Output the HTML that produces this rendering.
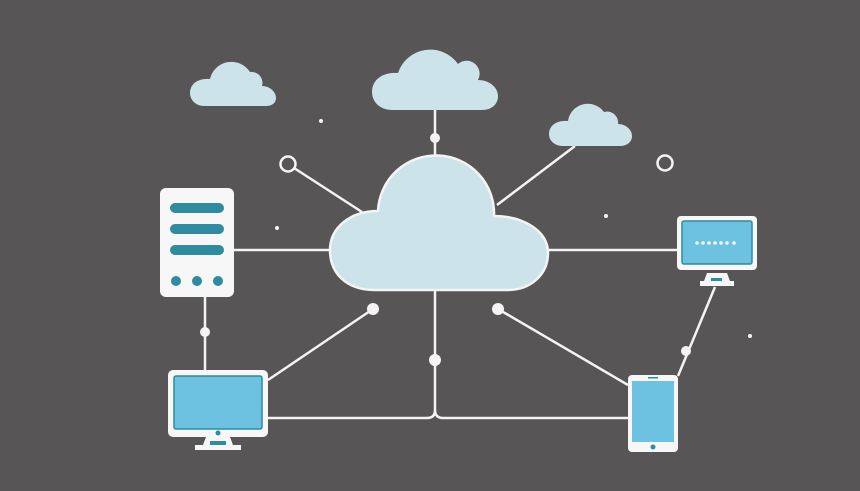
<!DOCTYPE html>
<html><head><style>html,body{margin:0;padding:0;background:#575556;}svg{display:block}</style></head>
<body>
<svg width="860" height="491" viewBox="0 0 860 491" xmlns="http://www.w3.org/2000/svg">
<rect width="860" height="491" fill="#575556"/>
<g stroke="#f4f4f4" stroke-width="2.5" fill="none">
<line x1="435" y1="110" x2="435" y2="160"/>
<line x1="294" y1="168" x2="362" y2="212"/>
<line x1="575" y1="146" x2="497" y2="205"/>
<line x1="234" y1="250" x2="332" y2="250"/>
<line x1="546" y1="250" x2="677" y2="250"/>
<line x1="205" y1="297" x2="205" y2="370"/>
<line x1="268" y1="380" x2="373" y2="309"/>
<line x1="628" y1="385" x2="498" y2="309"/>
<line x1="715" y1="287" x2="678" y2="376"/>
<path d="M268,418 H427 Q435,418 435,410 V290 M435,410 Q435,418 443,418 H628"/>
<circle cx="288" cy="164" r="7.5"/>
<circle cx="665" cy="163" r="7.5"/>
</g>
<g fill="#f4f4f4">
<circle cx="435" cy="138" r="5"/>
<circle cx="205" cy="332" r="5"/>
<circle cx="373" cy="309" r="6"/>
<circle cx="498" cy="309" r="6"/>
<circle cx="435" cy="360" r="6"/>
<circle cx="686" cy="351" r="5"/>
<circle cx="321" cy="121" r="2"/>
<circle cx="277" cy="228" r="2"/>
<circle cx="606" cy="216" r="2"/>
<circle cx="750" cy="336" r="2"/>
</g>
<!-- clouds -->
<path d="M375,290 C345,290 330,272 330,250 C330,228 350,211 378,211 A58,58 0 0 1 494,216 C522,216 548,230 548,253 C548,275 530,290 508,290 Z" fill="#cde3ea" stroke="#f4f4f4" stroke-width="2.5"/>
<path d="M392,110 C380,110 372,102 372,92 C372,80 382,72 398,73 A34,34 0 0 1 458,64 A13,13 0 0 1 478,80 C490,80 498,88 498,96 C498,104 492,110 482,110 Z" fill="#cde3ea"/>
<path d="M204,106 C196,106 190,100 190,93 C190,84 198,78 210,79 A22,22 0 0 1 250,72 A11,11 0 0 1 262,86 C270,86 276,92 276,98 C276,103 272,106 266,106 Z" fill="#cde3ea"/>
<path d="M563,146 C555,146 549,141 549,134 C549,126 556,120 568,121 A20,20 0 0 1 604,112 A11,11 0 0 1 618,124 C626,124 632,130 632,136 C632,142 627,146 620,146 Z" fill="#cde3ea"/>
<!-- server -->
<rect x="160" y="188" width="74" height="109" rx="6" fill="#f7f7f7"/>
<g fill="#2f8b9f">
<rect x="170" y="203" width="54" height="10" rx="5"/>
<rect x="170" y="224" width="54" height="10" rx="5"/>
<rect x="170" y="245" width="54" height="10" rx="5"/>
<circle cx="176" cy="281" r="5"/><circle cx="197" cy="281" r="5"/><circle cx="218" cy="281" r="5"/>
</g>
<!-- left monitor -->
<rect x="168" y="370" width="100" height="67" rx="5" fill="#f7f7f7"/>
<rect x="174" y="376" width="88" height="53" rx="2" fill="#6cc2e0" stroke="#2f8b9f" stroke-width="1.5"/>
<circle cx="218" cy="433" r="2.5" fill="#2f8b9f"/>
<path d="M206,437 h24 l3,8 h8 v5 h-46 v-5 h8 z" fill="#f7f7f7"/>
<rect x="210" y="441" width="16" height="4" fill="#2f8b9f"/>
<!-- right monitor -->
<rect x="677" y="216" width="80" height="54" rx="4" fill="#f7f7f7"/>
<rect x="682" y="221" width="70" height="43" rx="2" fill="#6cc2e0" stroke="#2f8b9f" stroke-width="1.5"/>
<g fill="#f4f4f4"><circle cx="697" cy="243" r="1.8"/><circle cx="703" cy="243" r="1.8"/><circle cx="709" cy="243" r="1.8"/><circle cx="715" cy="243" r="1.8"/><circle cx="721" cy="243" r="1.8"/><circle cx="727" cy="243" r="1.8"/><circle cx="734" cy="243" r="1.8"/></g>
<path d="M707,273 h20 l3,8 h4 v5 h-34 v-5 h4 z" fill="#f7f7f7"/>
<rect x="711" y="278" width="11" height="3" fill="#2f8b9f"/>
<!-- tablet -->
<rect x="628" y="375" width="50" height="77" rx="4" fill="#f7f7f7"/>
<rect x="632" y="381" width="42" height="61" fill="#6cc2e0"/>
<rect x="648" y="377" width="10" height="1.5" fill="#2f8b9f"/>
<circle cx="653" cy="447" r="2.5" fill="#2f8b9f"/>
</svg>
</body></html>
